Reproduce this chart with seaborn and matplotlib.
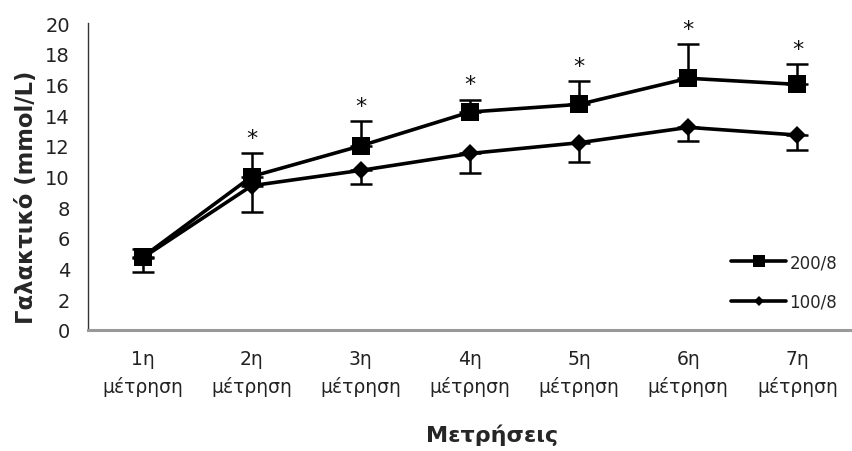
import matplotlib
matplotlib.use("Agg")
import matplotlib.pyplot as plt
from matplotlib.lines import Line2D
import numpy as np
import pandas as pd
import seaborn as sns

categories = ["1η\nμέτρηση", "2η\nμέτρηση", "3η\nμέτρηση", "4η\nμέτρηση",
              "5η\nμέτρηση", "6η\nμέτρηση", "7η\nμέτρηση"]
series_200 = [4.75, 10.0, 12.0, 14.2, 14.7, 16.4, 16.0]
err_200_up = [0.55, 1.5, 1.6, 0.8, 1.5, 2.2, 1.3]
series_100 = [4.7, 9.4, 10.4, 11.5, 12.2, 13.2, 12.7]
err_100_down = [0.9, 1.7, 0.9, 1.3, 1.25, 0.9, 1.0]
significant = [False, True, True, True, True, True, True]
y_ticks = [0, 2, 4, 6, 8, 10, 12, 14, 16, 18, 20]

sns.set_theme(style="white")
plt.rcParams['font.family'] = ['DejaVu Sans']

df = pd.DataFrame({
    "cat": categories * 2,
    "val": series_200 + series_100,
    "group": ["200/8"] * len(categories) + ["100/8"] * len(categories),
})
df["x"] = np.tile(np.arange(len(categories)), 2)

fig = plt.figure(figsize=(8.52, 4.52), dpi=100)
ax = fig.add_axes([88 / 852, 1 - 331 / 452, 1 - 88 / 852, (331 - 24) / 452])

x = np.arange(len(categories))
# error bars (one-sided)
ax.errorbar(x, series_200, yerr=[np.zeros(len(x)), err_200_up], fmt="none",
            ecolor="black", elinewidth=1.8, capsize=8, capthick=1.8, zorder=2)
ax.errorbar(x, series_100, yerr=[err_100_down, np.zeros(len(x))], fmt="none",
            ecolor="black", elinewidth=1.8, capsize=8, capthick=1.8, zorder=2)

sns.lineplot(data=df[df.group == "200/8"], x="x", y="val", ax=ax, color="black",
             lw=2.6, marker="s", markersize=13, markeredgewidth=0, legend=False, zorder=3)
sns.lineplot(data=df[df.group == "100/8"], x="x", y="val", ax=ax, color="black",
             lw=2.6, marker="D", markersize=9.5, markeredgewidth=0, legend=False, zorder=3)

# significance stars
for xi, v, e, s in zip(x, series_200, err_200_up, significant):
    if s:
        ax.annotate("*", xy=(xi, v + e), xytext=(0, 11), textcoords="offset points",
                    ha="center", va="center", fontsize=16, color="#111111")

ax.set_xlim(-0.5, len(categories) - 0.5)
ax.set_ylim(0, 20)
ax.set_yticks(y_ticks)
ax.set_yticklabels([str(t) for t in y_ticks], fontsize=14, color="#222222")
ax.set_xticks(x)
ax.set_xticklabels(categories, fontsize=13.5, color="#222222", linespacing=1.45)
ax.set_xticks(np.arange(-0.5, len(categories) + 0.5, 1), minor=True)
ax.tick_params(axis="x", which="major", length=0, pad=14)
ax.tick_params(axis="x", which="minor", length=6, width=1, color="#333333", direction="out")
ax.tick_params(axis="y", which="major", length=6, width=1, color="#999999", direction="out", pad=7)

for side in ["top", "right"]:
    ax.spines[side].set_visible(False)
ax.spines["left"].set_color("#333333")
ax.spines["left"].set_linewidth(1.0)
ax.spines["bottom"].set_color("#999999")
ax.spines["bottom"].set_linewidth(2.2)

ax.set_ylabel("Γαλακτικό (mmol/L)", fontsize=16.3, fontweight="bold")
ax.set_xlabel("Μετρήσεις", fontsize=16, fontweight="bold", va="center")
ax.yaxis.set_label_coords(-0.0655, 0.4365)
ax.xaxis.set_label_coords(0.529, -0.339)

handles = [
    Line2D([0], [0], color="black", lw=2.6, marker="s", markersize=8, markeredgewidth=0),
    Line2D([0], [0], color="black", lw=2.6, marker="D", markersize=5.5, markeredgewidth=0),
]
leg = ax.legend(handles, ["200/8", "100/8"], loc="center left",
                bbox_to_anchor=(731 / 852, 1 - 283 / 452), bbox_transform=fig.transFigure,
                frameon=False, fontsize=12, handlelength=3.3, handletextpad=0.2,
                labelspacing=1.3, borderaxespad=0, borderpad=0)

fig.savefig("out.png", dpi=100)
